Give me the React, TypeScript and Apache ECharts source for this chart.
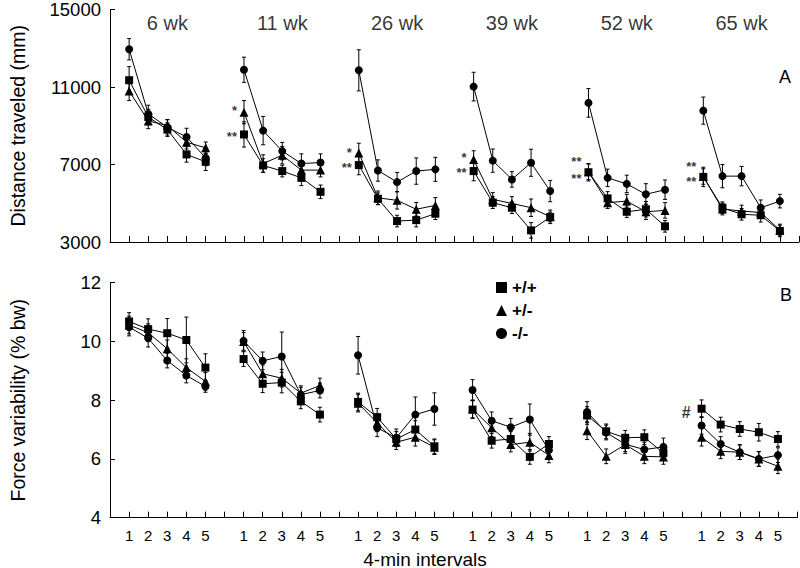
import React, { useEffect, useRef } from "react";
import * as echarts from "echarts";

const FONT = "'Liberation Sans', Arial, Helvetica, sans-serif";

// ---------- data ----------
const groups = ["6 wk", "11 wk", "26 wk", "39 wk", "52 wk", "65 wk"];
const intervalLabels = ["1", "2", "3", "4", "5"];
const genotypes = ["+/+", "+/-", "-/-"];

// Distance traveled (mm), [group][interval]
const distWT = [
  [11350, 9450, 8800, 7520, 7140],
  [8550, 6950, 6660, 6310, 5590],
  [6970, 5230, 4080, 4130, 4460],
  [6660, 5030, 4770, 3600, 4290],
  [6600, 5250, 4560, 4690, 3810],
  [6360, 4770, 4430, 4380, 3570],
];
const distHet = [
  [10800, 9250, 9010, 8150, 7860],
  [9700, 7050, 7480, 6710, 6710],
  [7600, 5280, 5150, 4690, 4890],
  [7260, 5200, 4990, 4770, 4300],
  [6620, 5030, 5110, 4560, 4630],
  [6380, 4700, 4600, 4520, 3620],
];
const distKO = [
  [12950, 9610, 8920, 8420, 7340],
  [11890, 8750, 7690, 7050, 7100],
  [11860, 6690, 6090, 6660, 6750],
  [11020, 7200, 6230, 7090, 5630],
  [10180, 6310, 6000, 5460, 5700],
  [9780, 6400, 6400, 4770, 5110],
];
const distWTErr = [
  [700, 400, 350, 400, 450],
  [650, 350, 300, 400, 350],
  [500, 300, 300, 350, 300],
  [500, 300, 300, 400, 250],
  [450, 350, 300, 400, 300],
  [500, 300, 300, 350, 300],
];
const distHetErr = [
  [500, 400, 300, 350, 300],
  [600, 450, 450, 400, 350],
  [500, 350, 450, 350, 400],
  [450, 350, 350, 450, 350],
  [400, 300, 350, 400, 400],
  [400, 300, 300, 300, 300],
];
const distKOErr = [
  [550, 450, 400, 450, 400],
  [650, 730, 450, 500, 450],
  [1060, 550, 500, 680, 620],
  [740, 600, 400, 700, 550],
  [740, 450, 450, 550, 500],
  [700, 600, 500, 400, 350],
];

// Force variability (% bw)
const forceWT = [
  [10.68, 10.42, 10.28, 10.05, 9.11],
  [9.4, 8.56, 8.6, 7.96, 7.51],
  [7.94, 7.42, 6.68, 7.0, 6.43],
  [7.68, 6.62, 6.68, 6.07, 6.51],
  [7.48, 6.94, 6.72, 6.74, 6.2],
  [7.71, 7.17, 7.02, 6.91, 6.68],
];
const forceHet = [
  [10.56, 10.3, 9.75, 9.11, 8.64],
  [10.0, 8.9, 8.75, 8.24, 8.5],
  [7.9, 7.23, 6.57, 6.74, 6.4],
  [7.7, 7.06, 6.49, 6.57, 6.12],
  [6.96, 6.09, 6.49, 6.09, 6.07],
  [6.74, 6.26, 6.23, 6.0, 5.75],
];
const forceKO = [
  [10.49, 10.11, 9.35, 8.84, 8.47],
  [10.02, 9.34, 9.49, 8.19, 8.33],
  [9.53, 7.06, 6.72, 7.51, 7.7],
  [8.35, 7.3, 7.08, 7.34, 6.3],
  [7.6, 6.9, 6.5, 6.32, 6.41],
  [7.14, 6.51, 6.23, 6.0, 6.13],
];
const forceWTErr = [
  [0.3, 0.35, 0.5, 0.78, 0.47],
  [0.25, 0.3, 0.35, 0.25, 0.25],
  [0.3, 0.3, 0.25, 0.3, 0.25],
  [0.3, 0.25, 0.25, 0.25, 0.25],
  [0.3, 0.25, 0.25, 0.25, 0.25],
  [0.3, 0.25, 0.25, 0.3, 0.25],
];
const forceHetErr = [
  [0.3, 0.3, 0.3, 0.3, 0.3],
  [0.3, 0.3, 0.3, 0.25, 0.25],
  [0.3, 0.3, 0.25, 0.3, 0.25],
  [0.3, 0.3, 0.25, 0.3, 0.25],
  [0.3, 0.25, 0.3, 0.25, 0.25],
  [0.3, 0.25, 0.25, 0.25, 0.25],
];
const forceKOErr = [
  [0.3, 0.3, 0.25, 0.25, 0.2],
  [0.35, 0.3, 0.83, 0.25, 0.25],
  [0.64, 0.3, 0.3, 0.6, 0.55],
  [0.35, 0.3, 0.3, 0.53, 0.3],
  [0.35, 0.25, 0.25, 0.25, 0.3],
  [0.3, 0.25, 0.25, 0.25, 0.25],
];

// significance marks: [groupIndex, value (text centre), text]
const distMarks: [number, number, string][] = [
  [1, 9770, "*"],
  [1, 8425, "**"],
  [2, 7606, "*"],
  [2, 6838, "**"],
  [3, 7350, "*"],
  [3, 6583, "**"],
  [4, 7130, "**"],
  [4, 6276, "**"],
  [5, 6879, "**"],
  [5, 6112, "**"],
];
const forceMarks: [number, number, string][] = [[5, 7.59, "#"]];

const distTicks = { min: 3000, max: 15000, step: 4000 };
const forceTicks = { min: 4, max: 12, step: 2 };

// ---------- helpers ----------
const SLOTS = 6;
const slotX = (g: number, i: number) => g * SLOTS + i + 1;

function buildLine(values: number[][]) {
  const out: any[] = [];
  values.forEach((grp, g) => {
    grp.forEach((v, i) => out.push([slotX(g, i), v]));
    if (g < values.length - 1) out.push([g * SLOTS + SLOTS, "-"]);
  });
  return out;
}
function buildErr(values: number[][], errs: number[][]) {
  const out: number[][] = [];
  values.forEach((grp, g) =>
    grp.forEach((v, i) => out.push([slotX(g, i), v - errs[g][i], v + errs[g][i]]))
  );
  return out;
}

const symbols = ["rect", "triangle", "circle"];
const symbolSizes = [8, 9, 8];

function errRender(params: any, api: any) {
  const x = api.value(0);
  const lo = api.coord([x, api.value(1)]);
  const hi = api.coord([x, api.value(2)]);
  const cw = 2;
  const st = { stroke: "#000", lineWidth: 1 };
  return {
    type: "group",
    children: [
      { type: "line", shape: { x1: lo[0], y1: lo[1], x2: hi[0], y2: hi[1] }, style: st },
      { type: "line", shape: { x1: lo[0] - cw, y1: lo[1], x2: lo[0] + cw, y2: lo[1] }, style: st },
      { type: "line", shape: { x1: hi[0] - cw, y1: hi[1], x2: hi[0] + cw, y2: hi[1] }, style: st },
    ],
  };
}

const plainLabel = {
  color: "#000",
  fontFamily: FONT,
  textBorderWidth: 0,
  textBorderColor: "transparent",
  textShadowBlur: 0,
};

export default function App() {
  const ref = useRef<HTMLDivElement>(null);

  useEffect(() => {
    document.body.style.margin = "0";
    if (!ref.current) return;
    const chart = echarts.init(ref.current, undefined, { renderer: "svg" });

    const distSets = [distWT, distHet, distKO];
    const distErrSets = [distWTErr, distHetErr, distKOErr];
    const forceSets = [forceWT, forceHet, forceKO];
    const forceErrSets = [forceWTErr, forceHetErr, forceKOErr];

    const nSlots = groups.length * SLOTS;

    const xAxisBase = (gridIndex: number, showLabels: boolean) => ({
      type: "value",
      gridIndex,
      min: 0,
      max: nSlots,
      interval: 1,
      axisLine: { show: true, lineStyle: { color: "#000", width: 1 } },
      axisTick: { show: true, inside: true, length: 6, lineStyle: { color: "#000" } },
      splitLine: { show: false },
      axisLabel: {
        show: showLabels,
        color: "#000",
        fontSize: 15,
        fontFamily: FONT,
        margin: 10,
        formatter: (v: number) => {
          const r = Math.round(v) % SLOTS;
          return r === 0 ? "" : intervalLabels[r - 1];
        },
      },
    });

    const yAxisBase = (gridIndex: number, t: any, name: string) => ({
      type: "value",
      gridIndex,
      min: t.min,
      max: t.max,
      interval: t.step,
      name,
      nameLocation: "middle",
      nameGap: 82,
      nameTextStyle: { color: "#000", fontSize: 19.5, fontFamily: FONT },
      axisLine: { show: true, lineStyle: { color: "#000", width: 1 } },
      axisTick: { show: true, inside: true, length: 5, lineStyle: { color: "#000" } },
      splitLine: { show: false },
      axisLabel: {
        color: "#000",
        fontSize: 18.5,
        fontFamily: FONT,
        margin: 9,
        formatter: (v: number) => String(v),
      },
    });

    const series: any[] = [];
    genotypes.forEach((name, k) => {
      series.push({
        type: "line",
        name,
        xAxisIndex: 0,
        yAxisIndex: 0,
        data: buildLine(distSets[k]),
        symbol: symbols[k],
        symbolSize: symbolSizes[k],
        connectNulls: false,
        lineStyle: { color: "#000", width: 1 },
        itemStyle: { color: "#000" },
        z: 3,
      });
      series.push({
        type: "custom",
        name: name + " err A",
        xAxisIndex: 0,
        yAxisIndex: 0,
        data: buildErr(distSets[k], distErrSets[k]),
        renderItem: errRender,
        encode: { x: 0, y: [1, 2] },
        z: 2,
      });
      series.push({
        type: "line",
        name,
        xAxisIndex: 1,
        yAxisIndex: 1,
        data: buildLine(forceSets[k]),
        symbol: symbols[k],
        symbolSize: symbolSizes[k],
        connectNulls: false,
        lineStyle: { color: "#000", width: 1 },
        itemStyle: { color: "#000" },
        z: 3,
      });
      series.push({
        type: "custom",
        name: name + " err B",
        xAxisIndex: 1,
        yAxisIndex: 1,
        data: buildErr(forceSets[k], forceErrSets[k]),
        renderItem: errRender,
        encode: { x: 0, y: [1, 2] },
        z: 2,
      });
    });

    // group labels
    series.push({
      type: "scatter",
      name: "groups",
      xAxisIndex: 0,
      yAxisIndex: 0,
      symbolSize: 0,
      itemStyle: { color: "#000" },
      data: groups.map((gname, g) => ({ value: [slotX(g, 2), 14280], name: gname })),
      label: {
        show: true,
        position: "inside",
        formatter: "{b}",
        fontSize: 20,
        ...plainLabel,
      },
      z: 5,
    });
    // significance marks
    series.push({
      type: "scatter",
      name: "marksA",
      xAxisIndex: 0,
      yAxisIndex: 0,
      symbolSize: 0,
      itemStyle: { color: "#000" },
      data: distMarks.map(([g, v, t]) => ({ value: [slotX(g, 0), v], name: t })),
      label: {
        show: true,
        position: "left",
        distance: 7,
        formatter: "{b}",
        fontSize: 13,
        fontWeight: "bold",
        ...plainLabel,
      },
      z: 5,
    });
    series.push({
      type: "scatter",
      name: "marksB",
      xAxisIndex: 1,
      yAxisIndex: 1,
      symbolSize: 0,
      itemStyle: { color: "#000" },
      data: forceMarks.map(([g, v, t]) => ({ value: [slotX(g, 0), v], name: t })),
      label: {
        show: true,
        position: "left",
        distance: 11,
        formatter: "{b}",
        fontSize: 16,
        fontWeight: "bold",
        ...plainLabel,
      },
      z: 5,
    });

    const txt = (text: string, x: number, y: number, size: number) => ({
      type: "text",
      x,
      y,
      silent: true,
      style: {
        text,
        fill: "#000",
        font: `${size}px ${FONT}`,
        textAlign: "center",
        textVerticalAlign: "middle",
        align: "center",
        verticalAlign: "middle",
      },
    });

    chart.setOption({
      animation: false,
      textStyle: { fontFamily: FONT },
      grid: [
        { left: 92, top: 7.5, width: 707, height: 234.5 },
        { left: 92, top: 282.7, width: 707, height: 235 },
      ],
      xAxis: [xAxisBase(0, false), xAxisBase(1, true)],
      yAxis: [
        yAxisBase(0, distTicks, "Distance traveled (mm)"),
        yAxisBase(1, forceTicks, "Force variability (% bw)"),
      ],
      legend: {
        orient: "vertical",
        left: 491,
        top: 274,
        itemWidth: 11,
        itemHeight: 11,
        itemGap: 6,
        selectedMode: false,
        data: genotypes.map((name, k) => ({
          name,
          icon: symbols[k],
          itemStyle: { color: "#000" },
        })),
        textStyle: { color: "#000", fontSize: 17, fontWeight: "bold", fontFamily: FONT },
      },
      graphic: [
        txt("A", 785, 77, 18),
        txt("B", 786, 295, 18),
        txt("4-min intervals", 425, 559, 19),
      ],
      series,
    });

    return () => chart.dispose();
  }, []);

  return <div ref={ref} style={{ width: 800, height: 568 }} />;
}
